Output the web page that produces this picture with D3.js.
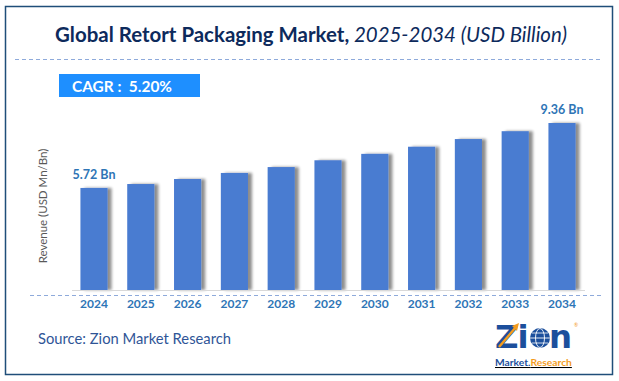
<!DOCTYPE html>
<html>
<head>
<meta charset="utf-8">
<script src="https://cdn.jsdelivr.net/npm/d3@7"></script>
<style>
html,body{margin:0;padding:0;background:#fff;}
svg{display:block;}
</style>
</head>
<body>
<svg id="chart" width="619" height="381"></svg>
<script>
const years = ["2024","2025","2026","2027","2028","2029","2030","2031","2032","2033","2034"];
const values = [5.72, 5.94, 6.22, 6.56, 6.89, 7.27, 7.63, 8.03, 8.46, 8.90, 9.36];
const labelledYears = ["2024","2034"];
const valueLabels = ["5.72 Bn","9.36 Bn"];
const titleBold = "Global Retort Packaging Market,";
const titleItalic = " 2025-2034 (USD Billion)";
const cagrText = "CAGR :  5.20%";
const yAxisTitle = "Revenue (USD Mn/Bn)";
const sourceText = "Source: Zion Market Research";

const FONT = "Lato, 'Open Sans', sans-serif";
const svg = d3.select("#chart");

// defs: shadow
const defs = svg.append("defs");
const f = defs.append("filter").attr("id","shadow").attr("x","-20%").attr("y","-5%").attr("width","160%").attr("height","110%");
f.append("feGaussianBlur").attr("in","SourceAlpha").attr("stdDeviation",1.6).attr("result","b");
f.append("feOffset").attr("in","b").attr("dx",3.5).attr("dy",0).attr("result","o");
f.append("feComponentTransfer").attr("in","o").attr("result","o2")
  .append("feFuncA").attr("type","linear").attr("slope",0.45);
const m = f.append("feMerge");
m.append("feMergeNode").attr("in","o2");
m.append("feMergeNode").attr("in","SourceGraphic");

// frame
svg.append("rect").attr("x",5.5).attr("y",6.5).attr("width",607).attr("height",368)
  .attr("fill","#fff").attr("stroke","#1f4e79").attr("stroke-width",1.5);

// title
const title = svg.append("text").attr("x",311).attr("y",42).attr("text-anchor","middle")
  .attr("font-family",FONT).attr("fill","#0d2a5c").attr("font-size",20);
title.append("tspan").attr("font-weight","bold").text(titleBold);
title.append("tspan").attr("font-style","italic").attr("font-weight","normal").text(titleItalic);
(function fit(){
  const w = title.node().getComputedTextLength();
  const target = 512;
  title.attr("font-size", 20*target/w);
})();

// dashed line under title
svg.append("line").attr("x1",15).attr("x2",601).attr("y1",59.5).attr("y2",59.5)
  .attr("stroke","#8eaadb").attr("stroke-width",1.2).attr("stroke-dasharray","4,3");

// CAGR box
svg.append("rect").attr("x",59).attr("y",74).attr("width",141).attr("height",23).attr("fill","#1e8fff");
const cg = svg.append("text").attr("x",72).attr("y",91.5).attr("font-family",FONT)
  .attr("font-weight","bold").attr("font-size",15).attr("fill","#fff").attr("xml:space","preserve").text(cagrText);
(function fit(){ const w = cg.node().getComputedTextLength(); cg.attr("font-size",15*100/w); })();

// scales
const x = d3.scaleBand().domain(years).range([70.6,585.4]).paddingInner(0.42).paddingOuter(0.21);
const y = d3.scaleLinear().domain([0, 9.36]).range([290, 123]);

// bars
svg.append("g").selectAll("rect").data(values).join("rect")
  .attr("x",(d,i)=>x(years[i])).attr("width",x.bandwidth())
  .attr("y",d=>y(d)).attr("height",d=>y(0)-y(d))
  .attr("fill","#4a7bd1").attr("filter","url(#shadow)");

// baseline
svg.append("line").attr("x1",72).attr("x2",585).attr("y1",290.5).attr("y2",290.5)
  .attr("stroke","#d9d9d9").attr("stroke-width",1);
// dashed axis line
svg.append("line").attr("x1",30).attr("x2",602).attr("y1",295.5).attr("y2",295.5)
  .attr("stroke","#8eaadb").attr("stroke-width",1.2).attr("stroke-dasharray","4,3");

// x axis labels
const xAxis = d3.axisBottom(x).tickSize(0).tickPadding(0);
const gx = svg.append("g").attr("transform","translate(0,299)").call(xAxis);
gx.select(".domain").remove();
gx.selectAll("text").attr("font-family",FONT).attr("font-weight","bold").attr("font-size",12)
  .attr("fill","#2e75b6").attr("dy","0.71em");

// value labels
svg.append("g").selectAll("text").data(labelledYears).join("text")
  .attr("x",d=>x(d)+x.bandwidth()/2)
  .attr("y",d=>y(values[years.indexOf(d)])-9)
  .attr("text-anchor","middle").attr("font-family",FONT).attr("font-weight","bold")
  .attr("font-size",12.5).attr("fill","#2e75b6").text((d,i)=>valueLabels[i]);

// y title
svg.append("text").attr("transform","translate(47,206) rotate(-90)").attr("text-anchor","middle")
  .attr("font-family",FONT).attr("font-size",11.5).attr("fill","#595959").text(yAxisTitle);

// source
const src = svg.append("text").attr("x",38).attr("y",344).attr("font-family",FONT)
  .attr("font-size",14).attr("fill","#2f5597").text(sourceText);
(function fit(){ const w = src.node().getComputedTextLength(); src.attr("font-size",14*193/w); })();

// logo
const logo = svg.append("g");
const zt = logo.append("text").attr("x",495).attr("y",348).attr("font-family","'DejaVu Sans', sans-serif")
  .attr("font-weight","bold").attr("font-size",26).attr("fill","#1c4f9c").attr("letter-spacing",-1);
zt.append("tspan").text("Zi");
zt.append("tspan").attr("fill","none").text("o");
zt.append("tspan").text("n");
(function fit(){ const w = zt.node().getComputedTextLength(); zt.attr("font-size",26*75/w); })();
// orange arrow through Z
logo.append("line").attr("x1",499).attr("y1",347).attr("x2",516).attr("y2",327)
  .attr("stroke","#f39c1f").attr("stroke-width",2.5);
logo.append("path").attr("d","M512,326 L519,323 L517,331 Z").attr("fill","#f39c1f");
// globe
const gc = {cx:540, cy:338, r:10};
logo.append("circle").attr("cx",gc.cx).attr("cy",gc.cy).attr("r",gc.r).attr("fill","#1c4f9c");
logo.append("ellipse").attr("cx",gc.cx).attr("cy",gc.cy).attr("rx",4.5).attr("ry",gc.r-0.5)
  .attr("fill","none").attr("stroke","#fff").attr("stroke-width",0.9);
logo.append("line").attr("x1",gc.cx-gc.r).attr("x2",gc.cx+gc.r).attr("y1",gc.cy).attr("y2",gc.cy).attr("stroke","#fff").attr("stroke-width",0.9);
logo.append("line").attr("x1",gc.cx-8).attr("x2",gc.cx+8).attr("y1",gc.cy-5).attr("y2",gc.cy-5).attr("stroke","#fff").attr("stroke-width",0.8);
logo.append("line").attr("x1",gc.cx-8).attr("x2",gc.cx+8).attr("y1",gc.cy+5).attr("y2",gc.cy+5).attr("stroke","#fff").attr("stroke-width",0.8);
const mr = logo.append("text").attr("x",495).attr("y",366).attr("font-family",FONT)
  .attr("font-weight","bold").attr("font-size",10).attr("text-decoration","underline");
mr.append("tspan").attr("fill","#1c4f9c").text("Market.");
mr.append("tspan").attr("fill","#f39c1f").text("Research");
(function fit(){ const w = mr.node().getComputedTextLength(); mr.attr("font-size",10*77/w); })();
logo.append("text").attr("x",574).attr("y",327).attr("font-size",5).attr("fill","#f39c1f").attr("font-family",FONT).text("®");
</script>
</body>
</html>
